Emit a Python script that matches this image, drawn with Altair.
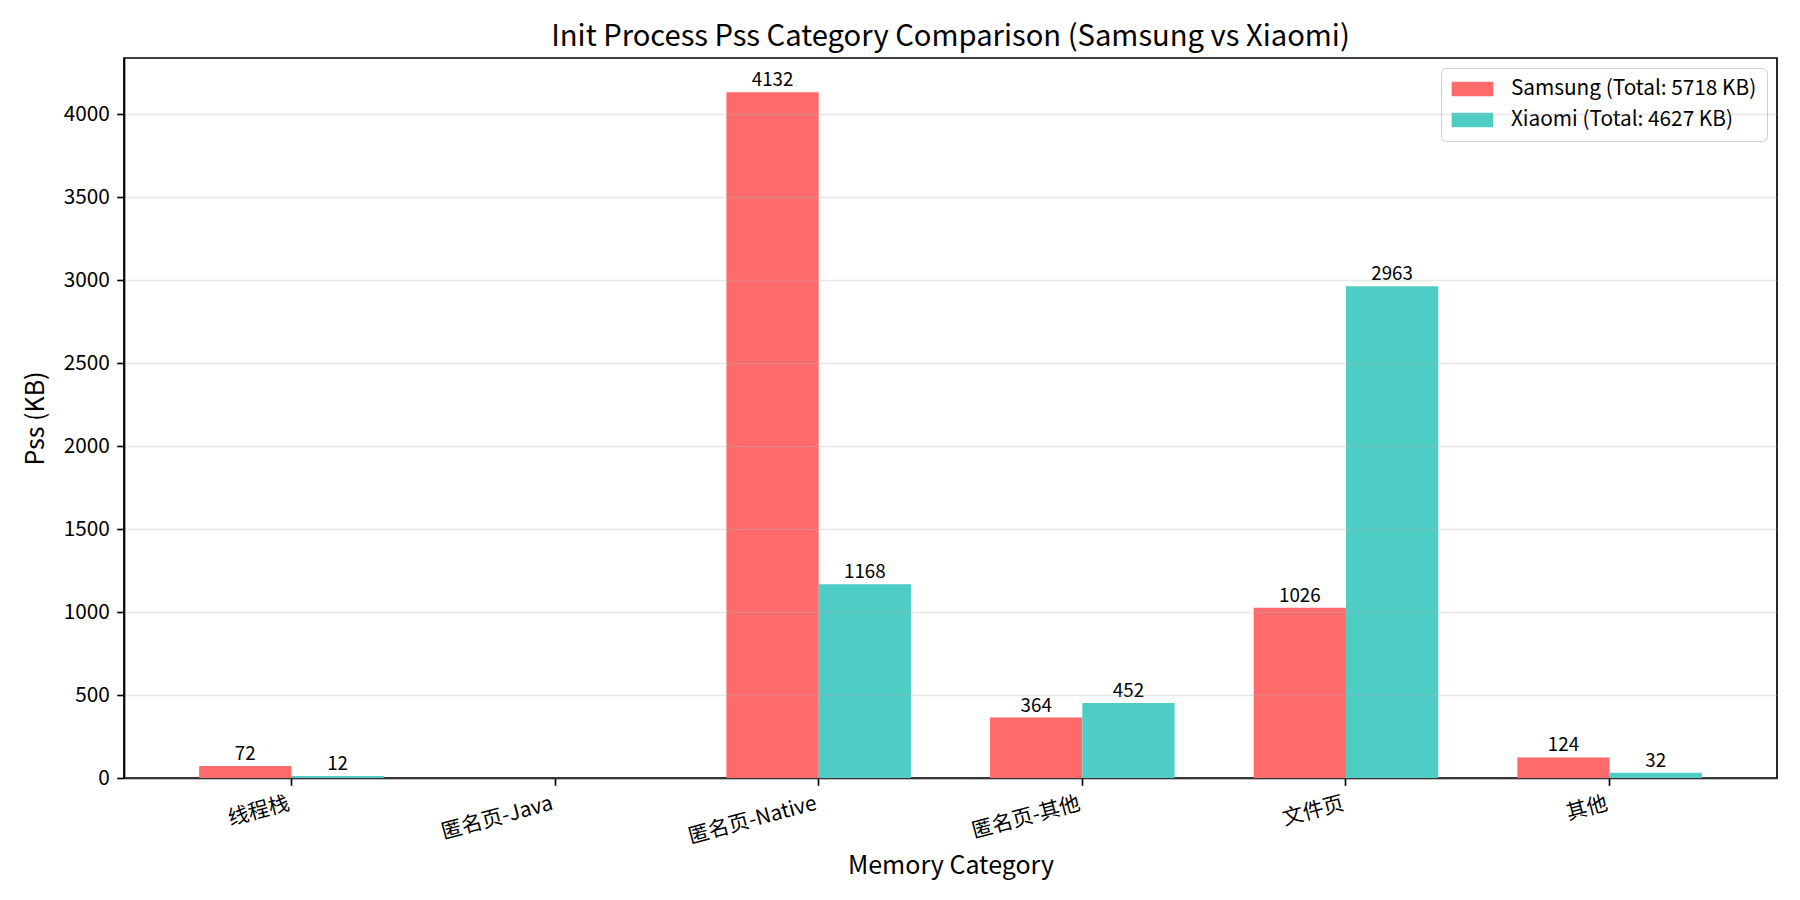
import altair as alt
import pandas as pd

# ---- data ----
categories = ["线程栈", "匿名页-Java", "匿名页-Native", "匿名页-其他", "文件页", "其他"]
samsung = [72, 0, 4132, 364, 1026, 124]
xiaomi = [12, 0, 1168, 452, 2963, 32]
series_names = ["Samsung", "Xiaomi"]
colors = ["#FF6B6B", "#4ECDC4"]
y_ticks = [0, 500, 1000, 1500, 2000, 2500, 3000, 3500, 4000]

labels = [
    f"{series_names[0]} (Total: {sum(samsung)} KB)",
    f"{series_names[1]} (Total: {sum(xiaomi)} KB)",
]

rows = []
for i, c in enumerate(categories):
    rows.append({"category": c, "series": labels[0], "value": samsung[i]})
    rows.append({"category": c, "series": labels[1], "value": xiaomi[i]})
df = pd.DataFrame(rows)

FONT = "Noto Sans CJK SC"
ymax = max(samsung + xiaomi) * 1.05

x_enc = alt.X(
    "category:N",
    sort=categories,
    title="Memory Category",
    scale=alt.Scale(paddingInner=0.3, paddingOuter=0.285),
    axis=alt.Axis(
        labelAngle=-15,
        labelAlign="right",
        labelBaseline="top",
        labelFontSize=20.8,
        labelPadding=8,
        labelOffset=-5,
        labelColor="black",
        tickSize=7.3,
        tickWidth=1.67,
        tickColor="black",
        domainColor="black",
        domainWidth=1.67,
        titleFontSize=25,
        titleFontWeight="normal",
        titleColor="black",
        titlePadding=7,
        grid=False,
    ),
)
xoff = alt.XOffset(
    "series:N", sort=labels, scale=alt.Scale(paddingInner=0, paddingOuter=0)
)
y_enc = alt.Y(
    "value:Q",
    title="Pss (KB)",
    scale=alt.Scale(domain=[0, ymax], nice=False, zero=True),
    axis=alt.Axis(
        values=y_ticks,
        format="d",
        labelFontSize=20.8,
        labelPadding=7.3,
        labelColor="black",
        tickSize=7.3,
        tickWidth=1.67,
        tickColor="black",
        domainColor="black",
        domainWidth=1.67,
        titleFontSize=25,
        titleFontWeight="normal",
        titleColor="black",
        titlePadding=15,
        grid=True,
        gridColor="#b0b0b0",
        gridOpacity=0.3,
        gridWidth=1.67,
        zindex=1,
    ),
)
color_enc = alt.Color(
    "series:N",
    sort=labels,
    scale=alt.Scale(domain=labels, range=colors),
    legend=alt.Legend(
        title=None,
        orient="top-right",
        offset=10,
        padding=10.5,
        labelFontSize=20.8,
        labelColor="black",
        labelOffset=28,
        rowPadding=9,
        symbolType="M-2,-0.7L2,-0.7L2,0.7L-2,0.7Z",
        symbolSize=432,
        symbolOffset=10.4,
        symbolStrokeWidth=0,
        symbolOpacity=1,
        strokeColor="#d0d0d0",
        fillColor="rgba(255,255,255,0.8)",
        cornerRadius=5,
        labelLimit=600,
    ),
)

base = alt.Chart(df)

bars = base.mark_bar().encode(x=x_enc, xOffset=xoff, y=y_enc, color=color_enc)

text = (
    base.transform_filter(alt.datum.value > 0)
    .mark_text(baseline="alphabetic", dy=-6, fontSize=18.75, color="black", font=FONT)
    .encode(x=x_enc, xOffset=xoff, y=y_enc, text=alt.Text("value:Q", format="d"))
)

chart = (
    alt.layer(bars, text)
    .properties(
        width=1653,
        height=720,
        autosize=alt.AutoSizeParams(type="none"),
        padding={"left": 116, "top": 50, "right": 15, "bottom": 104},
        title=alt.TitleParams(
            "Init Process Pss Category Comparison (Samsung vs Xiaomi)",
            fontSize=29.2,
            fontWeight="normal",
            font=FONT,
            color="black",
            anchor="middle",
            baseline="alphabetic",
            offset=-17,
        ),
    )
    .configure(font=FONT)
    .configure_view(stroke="black", strokeWidth=1.67)
)

chart.save("out.html", embed_options={"renderer": "svg", "actions": False})
